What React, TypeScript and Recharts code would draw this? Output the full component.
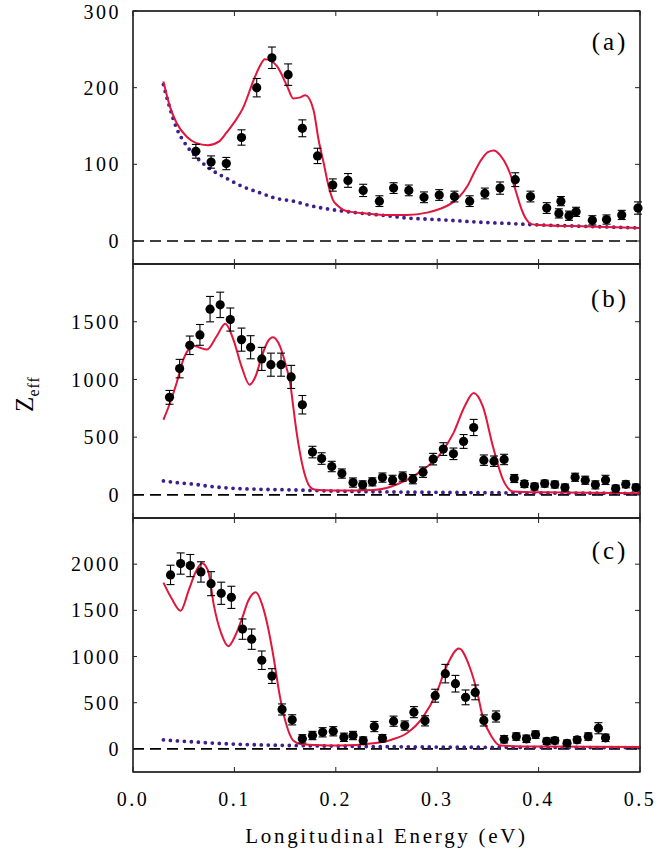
import { ComposedChart, ErrorBar, Line, ReferenceArea, ReferenceLine, Scatter, XAxis, YAxis } from "recharts";

// measured Zeff, panel (a)
const energyA = [0.062, 0.077, 0.092, 0.107, 0.122, 0.137, 0.153, 0.167, 0.182, 0.197, 0.212, 0.227, 0.243, 0.257, 0.272, 0.287, 0.302, 0.317, 0.332, 0.347, 0.362, 0.377, 0.392, 0.408, 0.42, 0.422, 0.43, 0.437, 0.453, 0.467, 0.482, 0.498];
const zeffA = [117, 103, 101, 135, 200, 239, 217, 147, 111, 73, 79, 66, 52, 69, 66, 57, 60, 58, 52, 62, 69, 80, 58, 43, 36, 52, 33, 38, 27, 28, 34, 43];
const errA = [9, 8, 8, 10, 12, 14, 14, 11, 10, 8, 9, 8, 7, 7, 7, 7, 7, 7, 7, 7, 8, 9, 7, 7, 6, 6, 6, 6, 6, 6, 6, 8];

const fitEnergyA = [0.03, 0.0365, 0.043, 0.053, 0.062, 0.074, 0.085, 0.092, 0.1, 0.109, 0.119, 0.125, 0.13, 0.136, 0.142, 0.152, 0.158, 0.164, 0.17, 0.178, 0.183, 0.188, 0.193, 0.197, 0.202, 0.207, 0.215, 0.23, 0.25, 0.27, 0.29, 0.303, 0.315, 0.322, 0.33, 0.336, 0.343, 0.35, 0.356, 0.362, 0.369, 0.374, 0.378, 0.383, 0.388, 0.393, 0.4, 0.45, 0.5];
const fitZeffA = [208, 175, 154, 136, 128, 125, 130, 141, 155, 175, 210, 228, 237, 235, 228, 202, 186, 187, 190, 171, 132, 102, 71, 54, 46, 41, 38, 36, 34, 34, 37, 42, 50, 58, 72, 88, 105, 116, 118, 112, 97, 80, 63, 42, 28, 22, 21, 19, 17];

const dipoleEnergyA = [0.03, 0.036, 0.043, 0.05, 0.062, 0.075, 0.092, 0.11, 0.125, 0.14, 0.158, 0.175, 0.191, 0.22, 0.25, 0.27, 0.3, 0.35, 0.369, 0.4, 0.45, 0.5];
const dipoleZeffA = [204, 175, 147, 130, 110, 95, 82, 70, 63, 56, 52, 46, 42, 37, 33, 30, 28, 24, 23, 21, 19, 17];

// panel (b)
const energyB = [0.036, 0.046, 0.056, 0.066, 0.076, 0.086, 0.096, 0.107, 0.116, 0.127, 0.136, 0.146, 0.156, 0.167, 0.177, 0.186, 0.196, 0.206, 0.217, 0.2265, 0.236, 0.246, 0.256, 0.266, 0.276, 0.286, 0.296, 0.306, 0.316, 0.326, 0.336, 0.346, 0.356, 0.366, 0.376, 0.386, 0.396, 0.406, 0.416, 0.426, 0.436, 0.446, 0.456, 0.466, 0.476, 0.486, 0.496];
const zeffB = [845, 1094, 1296, 1386, 1609, 1646, 1519, 1345, 1279, 1178, 1128, 1128, 1022, 781, 371, 315, 246, 185, 107, 87, 113, 150, 130, 159, 136, 197, 310, 397, 356, 463, 584, 301, 292, 307, 142, 95, 72, 98, 90, 64, 153, 127, 87, 130, 55, 92, 64];
const errB = [60, 80, 80, 90, 110, 110, 100, 100, 100, 100, 100, 100, 100, 80, 50, 50, 45, 40, 40, 35, 35, 40, 40, 40, 40, 45, 50, 55, 50, 60, 70, 45, 45, 45, 35, 30, 30, 30, 30, 30, 35, 35, 35, 40, 30, 30, 30];

const fitEnergyB = [0.03, 0.0365, 0.043, 0.0496, 0.056, 0.06, 0.066, 0.073, 0.0825, 0.091, 0.099, 0.107, 0.115, 0.121, 0.127, 0.133, 0.138, 0.145, 0.151, 0.155, 0.158, 0.161, 0.1647, 0.17, 0.1746, 0.18, 0.19, 0.2, 0.237, 0.25, 0.26, 0.27, 0.286, 0.303, 0.316, 0.327, 0.336, 0.345, 0.355, 0.365, 0.375, 0.4, 0.5];
const fitZeffB = [651, 796, 970, 1172, 1273, 1293, 1275, 1259, 1374, 1482, 1345, 1114, 955, 1030, 1200, 1330, 1366, 1287, 1114, 970, 766, 564, 362, 159, 70, 45, 40, 38, 43, 60, 90, 130, 217, 353, 535, 766, 883, 766, 419, 130, 29, 22, 15];

const dipoleEnergyB = [0.03, 0.045, 0.06, 0.075, 0.092, 0.12, 0.158, 0.2, 0.25, 0.3, 0.4, 0.5];
const dipoleZeffB = [121, 105, 93, 75, 61, 50, 43, 33, 26, 22, 17, 13];

// panel (c)
const energyC = [0.037, 0.047, 0.0565, 0.067, 0.077, 0.087, 0.097, 0.108, 0.117, 0.127, 0.137, 0.147, 0.157, 0.167, 0.177, 0.187, 0.1975, 0.208, 0.217, 0.227, 0.238, 0.246, 0.257, 0.268, 0.277, 0.288, 0.298, 0.308, 0.318, 0.328, 0.3375, 0.346, 0.358, 0.366, 0.378, 0.388, 0.397, 0.408, 0.416, 0.428, 0.438, 0.449, 0.459, 0.466];
const zeffC = [1884, 2007, 1985, 1916, 1789, 1685, 1641, 1297, 1188, 960, 789, 427, 315, 109, 145, 180, 191, 126, 145, 90, 242, 115, 300, 253, 398, 304, 576, 815, 706, 558, 612, 308, 351, 104, 134, 109, 155, 83, 90, 61, 98, 134, 224, 120];
const errC = [105, 115, 120, 110, 130, 120, 120, 110, 110, 100, 80, 60, 55, 45, 45, 50, 50, 45, 45, 40, 55, 40, 55, 50, 60, 55, 70, 100, 90, 80, 80, 60, 60, 40, 40, 40, 40, 35, 35, 35, 35, 40, 60, 40];

const fitEnergyC = [0.03, 0.038, 0.047, 0.055, 0.062, 0.068, 0.074, 0.08, 0.087, 0.094, 0.101, 0.107, 0.114, 0.121, 0.128, 0.133, 0.138, 0.145, 0.151, 0.158, 0.165, 0.18, 0.204, 0.237, 0.255, 0.27, 0.286, 0.299, 0.309, 0.3215, 0.332, 0.339, 0.345, 0.354, 0.362, 0.4, 0.5];
const fitZeffC = [1800, 1630, 1496, 1720, 1920, 2011, 1930, 1540, 1250, 1112, 1230, 1395, 1612, 1696, 1540, 1322, 1033, 561, 272, 90, 54, 42, 36, 61, 100, 170, 344, 598, 887, 1087, 887, 634, 344, 126, 36, 25, 20];

const dipoleEnergyC = [0.03, 0.045, 0.06, 0.08, 0.1, 0.15, 0.2, 0.25, 0.3, 0.4, 0.5];
const dipoleZeffC = [98, 86, 76, 62, 52, 38, 30, 24, 20, 16, 14];

const energyTicks = [0, 0.1, 0.2, 0.3, 0.4, 0.5];

const RED = "#e0163c";
const PURPLE = "#3c1f8c";
const FRAME = "#222";
const SERIF = "'Liberation Serif', 'Times New Roman', serif";

const toRows = (xs: number[], ys: number[], errs?: number[]) =>
  xs.map((x, i) => ({ x, z: ys[i], err: errs ? errs[i] : 0 }));

const Dot = (props: any) => <circle cx={props.cx} cy={props.cy} r={4.6} fill="#000" />;
// keeps the tick marks of an axis but draws no text
const NoLabel = () => <g />;

interface PanelProps {
  top: number;
  height: number;
  margin: { top: number; bottom: number };
  domain: [number, number];
  yTicks: number[];
  tag: string;
  tagTop: number;
  measured: { x: number; z: number; err: number }[];
  fit: { x: number; z: number }[];
  dipole: { x: number; z: number }[];
  bottomAxis?: boolean;
}

function Panel({ top, height, margin, domain, yTicks, tag, tagTop, measured, fit, dipole, bottomAxis }: PanelProps) {
  return (
    <div style={{ position: "absolute", left: 0, top }}>
      <ComposedChart
        width={669}
        height={height}
        data={fit}
        margin={{ top: margin.top, right: 28, bottom: margin.bottom, left: 0 }}
      >
        <XAxis
          xAxisId="b"
          type="number"
          dataKey="x"
          domain={[0, 0.5]}
          ticks={energyTicks}
          orientation="bottom"
          height={bottomAxis ? 80 : 1}
          stroke={FRAME}
          tickSize={-5}
          tickMargin={25}
          tick={bottomAxis ? { fontFamily: SERIF, fontSize: 20, fill: "#000", letterSpacing: 2.5 } : NoLabel}
          tickFormatter={(v: number) => v.toFixed(1)}
          label={
            bottomAxis
              ? {
                  value: "Longitudinal Energy (eV)",
                  position: "insideBottom",
                  offset: 9,
                  style: { fontFamily: SERIF, fontSize: 21, fill: "#000", letterSpacing: 2.7 },
                }
              : undefined
          }
        />
        <XAxis
          xAxisId="t"
          type="number"
          dataKey="x"
          domain={[0, 0.5]}
          ticks={energyTicks}
          orientation="top"
          height={1}
          stroke={FRAME}
          tickSize={-5}
          tick={NoLabel}
        />
        <YAxis
          yAxisId="l"
          type="number"
          dataKey="z"
          domain={domain}
          ticks={yTicks}
          width={133}
          stroke={FRAME}
          tickSize={-4}
          tickMargin={16}
          tick={{ fontFamily: SERIF, fontSize: 20, fill: "#000", letterSpacing: 2.5 }}
        />
        <YAxis
          yAxisId="r"
          type="number"
          dataKey="z"
          orientation="right"
          domain={domain}
          ticks={yTicks}
          width={1}
          stroke={FRAME}
          tickSize={-5}
          tick={NoLabel}
        />
        {/* box round the plot area; "visible" so the edges are not dropped as out of range */}
        <ReferenceArea
          x1={0}
          x2={0.5}
          y1={domain[0]}
          y2={domain[1]}
          xAxisId="b"
          yAxisId="l"
          ifOverflow="visible"
          fill="none"
          fillOpacity={0}
          stroke={FRAME}
          strokeWidth={1.3}
          strokeOpacity={1}
        />
        <ReferenceLine y={0} xAxisId="b" yAxisId="l" stroke="#000" strokeWidth={1.6} strokeDasharray="11 6" />
        <Line
          data={dipole}
          dataKey="z"
          xAxisId="b"
          yAxisId="l"
          type="monotone"
          stroke={PURPLE}
          strokeWidth={3.8}
          strokeDasharray="0 7"
          strokeLinecap="round"
          dot={false}
          activeDot={false}
          isAnimationActive={false}
        />
        <Line
          data={fit}
          dataKey="z"
          xAxisId="b"
          yAxisId="l"
          type="monotone"
          stroke={RED}
          strokeWidth={2}
          dot={false}
          activeDot={false}
          isAnimationActive={false}
        />
        <Scatter data={measured} dataKey="z" xAxisId="b" yAxisId="l" shape={Dot} isAnimationActive={false}>
          <ErrorBar dataKey="err" direction="y" width={4} stroke="#000" strokeWidth={1.1} isAnimationActive={false} />
        </Scatter>
      </ComposedChart>
      <div
        style={{
          position: "absolute",
          left: 610,
          top: tagTop,
          transform: "translate(-50%, -50%)",
          fontFamily: SERIF,
          fontSize: 25,
          letterSpacing: 3,
          whiteSpace: "nowrap",
        }}
      >
        {tag}
      </div>
    </div>
  );
}

export default function App() {
  return (
    <div style={{ position: "absolute", left: 0, top: 0, width: 669, height: 859 }}>
      <Panel
        top={0}
        height={270}
        margin={{ top: 10, bottom: 5 }}
        domain={[-30, 300]}
        yTicks={[0, 100, 200, 300]}
        tag="(a)"
        tagTop={42}
        measured={toRows(energyA, zeffA, errA)}
        fit={toRows(fitEnergyA, fitZeffA)}
        dipole={toRows(dipoleEnergyA, dipoleZeffA)}
      />
      <Panel
        top={258}
        height={266}
        margin={{ top: 5, bottom: 5 }}
        domain={[-200, 2000]}
        yTicks={[0, 500, 1000, 1500]}
        tag="(b)"
        tagTop={41}
        measured={toRows(energyB, zeffB, errB)}
        fit={toRows(fitEnergyB, fitZeffB)}
        dipole={toRows(dipoleEnergyB, dipoleZeffB)}
      />
      <Panel
        top={512}
        height={347}
        margin={{ top: 5, bottom: 7 }}
        domain={[-250, 2500]}
        yTicks={[0, 500, 1000, 1500, 2000]}
        tag="(c)"
        tagTop={39}
        measured={toRows(energyC, zeffC, errC)}
        fit={toRows(fitEnergyC, fitZeffC)}
        dipole={toRows(dipoleEnergyC, dipoleZeffC)}
        bottomAxis
      />
      <div
        style={{
          position: "absolute",
          left: 27,
          top: 394,
          transform: "translate(-50%, -50%) rotate(-90deg)",
          fontFamily: SERIF,
          fontSize: 25,
          whiteSpace: "nowrap",
          lineHeight: 1,
        }}
      >
        Z<sub style={{ fontSize: 16, letterSpacing: 1 }}>eff</sub>
      </div>
    </div>
  );
}
